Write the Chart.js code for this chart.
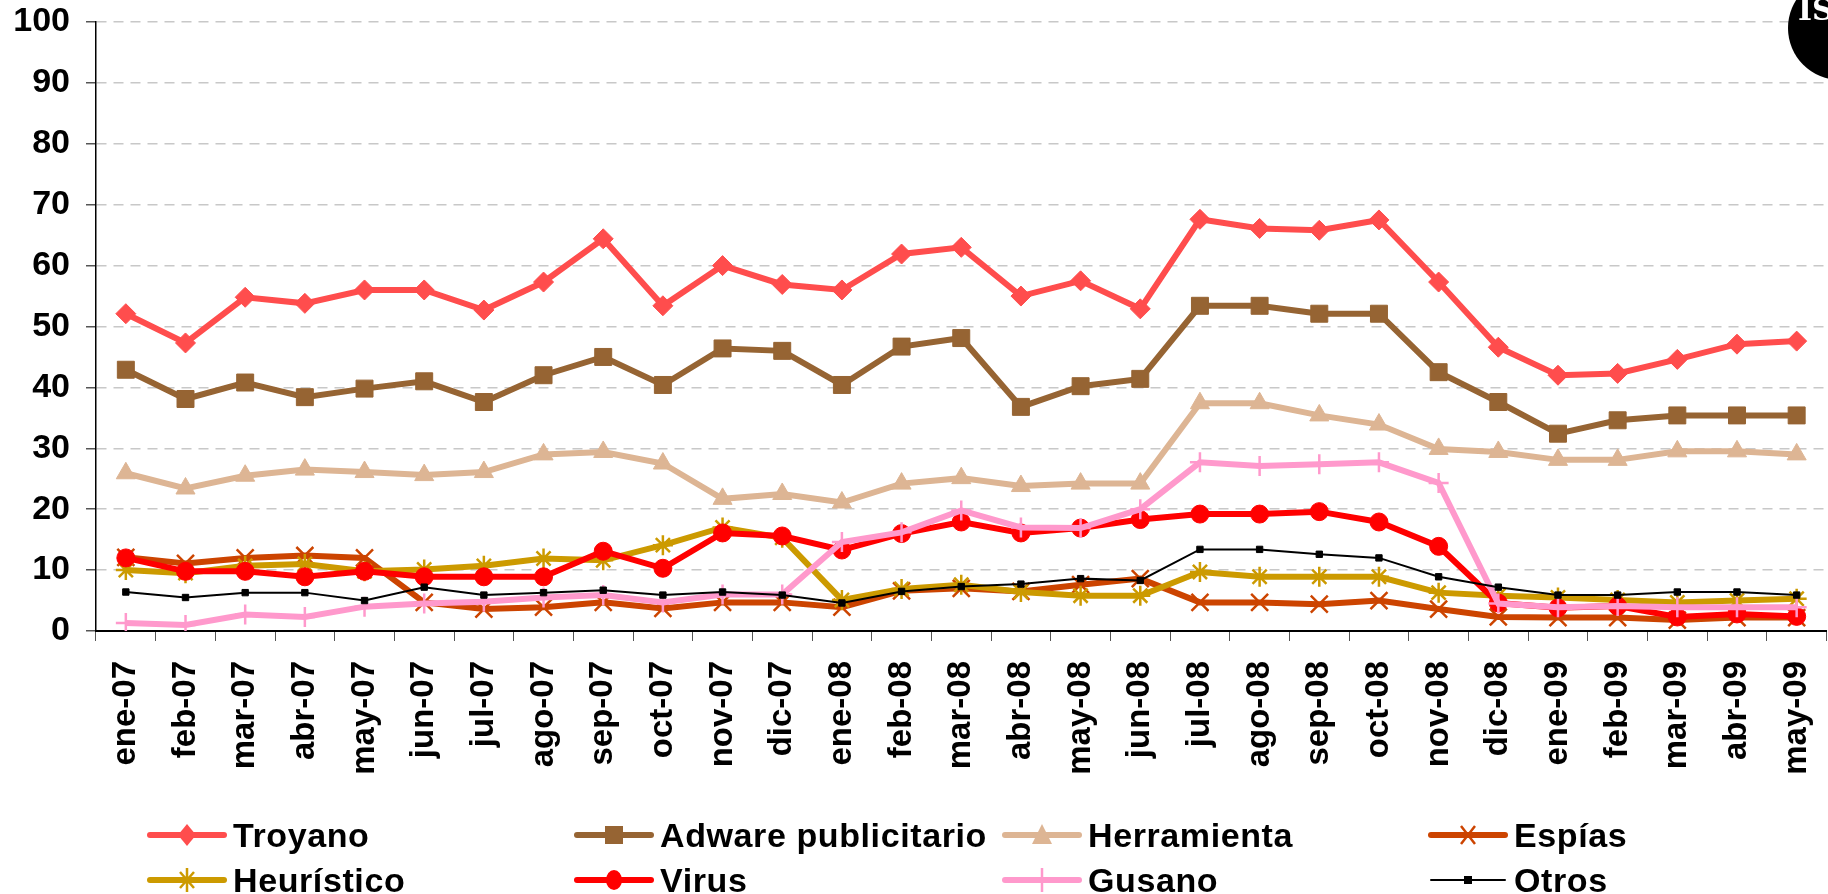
<!DOCTYPE html>
<html>
<head>
<meta charset="utf-8">
<script src="https://cdn.jsdelivr.net/npm/chart.js@4.4.1/dist/chart.umd.min.js"></script>
<style>
  body { margin: 0; background: #fff; overflow: hidden; }
  #wrap { position: relative; width: 1828px; height: 894px; overflow: hidden; }
  #box { position: absolute; left: 0; top: 0; width: 1841px; height: 894px; }
  #logo { position: absolute; left: 1788px; top: -24px; width: 104px; height: 104px; border-radius: 50%; background: #000; }
  #logo span { position: absolute; left: 10px; top: 16px; color: #fff; font: bold 30px 'DejaVu Serif', serif; }
  .item { position: absolute; height: 40px; display: flex; align-items: center; }
  .item span { font: bold 34px 'Liberation Sans', Arial, sans-serif; letter-spacing: 0.6px; color: #000; margin-left: 6px; }
</style>
</head>
<body>
<div id="wrap">
  <div id="box"><canvas id="chart"></canvas></div>
  <div id="logo"><span>IS</span></div>
  <div id="legend"></div>
</div>
<script>
//1) DATA//
const months = ['ene-07','feb-07','mar-07','abr-07','may-07','jun-07','jul-07','ago-07','sep-07','oct-07','nov-07','dic-07',
   'ene-08','feb-08','mar-08','abr-08','may-08','jun-08','jul-08','ago-08','sep-08','oct-08','nov-08','dic-08',
   'ene-09','feb-09','mar-09','abr-09','may-09'];
const yTicks = [0, 10, 20, 30, 40, 50, 60, 70, 80, 90, 100];

const troyano = [52.1, 47.3, 54.8, 53.8, 56, 56, 52.7, 57.3, 64.4, 53.4, 60, 56.9, 56, 61.9, 63, 55, 57.5, 52.9, 67.6, 66.1, 65.8, 67.5, 57.3, 46.6, 42.0, 42.3, 44.6, 47.1, 47.6];
const adware = [42.9, 38.1, 40.8, 38.4, 39.8, 41, 37.6, 42, 45, 40.4, 46.4, 46, 40.4, 46.7, 48.1, 36.8, 40.2, 41.4, 53.4, 53.4, 52.1, 52.1, 42.5, 37.6, 32.4, 34.6, 35.4, 35.4, 35.4];
const herramienta = [25.9, 23.4, 25.5, 26.5, 26.1, 25.6, 26.1, 29.0, 29.4, 27.5, 21.7, 22.5, 21.1, 24.2, 25.1, 23.8, 24.2, 24.2, 37.4, 37.4, 35.4, 33.9, 29.9, 29.4, 28.1, 28.1, 29.5, 29.5, 29.0];
const espias = [12.1, 11.1, 12.0, 12.4, 12.0, 4.7, 3.6, 3.9, 4.7, 3.7, 4.7, 4.7, 3.9, 6.6, 7.0, 6.5, 7.6, 8.6, 4.7, 4.7, 4.4, 5.0, 3.6, 2.3, 2.2, 2.2, 1.8, 2.2, 2.2];
const heuristico = [10.0, 9.5, 10.7, 11.0, 9.8, 10.1, 10.7, 11.9, 11.6, 14.1, 17.0, 15.3, 5.1, 6.9, 7.6, 6.4, 5.8, 5.8, 9.7, 8.9, 8.9, 8.9, 6.3, 5.8, 5.5, 5.1, 4.7, 5.0, 5.3];
const virus = [12.0, 9.8, 9.8, 8.9, 9.8, 8.9, 8.9, 8.9, 13.1, 10.3, 16.1, 15.6, 13.3, 16.0, 17.9, 16.1, 16.9, 18.3, 19.2, 19.2, 19.6, 17.9, 13.9, 4.6, 3.8, 4.1, 2.3, 2.8, 2.4];
const gusano = [1.3, 1.0, 2.7, 2.3, 4.0, 4.5, 4.8, 5.5, 5.9, 4.7, 6.0, 6.0, 14.6, 16.2, 19.8, 17.0, 16.9, 20.0, 27.7, 27.1, 27.4, 27.7, 24.3, 4.5, 3.9, 4.1, 3.9, 3.9, 3.9];
const otros = [6.4, 5.5, 6.3, 6.3, 5.0, 7.2, 5.9, 6.3, 6.7, 5.9, 6.4, 5.9, 4.6, 6.5, 7.3, 7.7, 8.6, 8.3, 13.4, 13.4, 12.6, 12.0, 8.9, 7.2, 5.9, 5.9, 6.4, 6.4, 5.9];

//2) SERIES STYLE//
const series = [
   { label: 'Troyano', data: troyano, color: '#FF4D4D', style: 'rectRot', r: 10, w: 6, order: 8 },
   { label: 'Adware publicitario', data: adware, color: '#966433', style: 'rect', r: 12, w: 6, order: 7 },
   { label: 'Herramienta', data: herramienta, color: '#DDB594', style: 'triangle', r: 11, w: 6, order: 6 },
   { label: 'Espías', data: espias, color: '#CC4400', style: 'crossRot', r: 12, w: 6, order: 5 },
   { label: 'Heurístico', data: heuristico, color: '#CC9A00', style: 'star', r: 10, w: 6, order: 4 },
   { label: 'Virus', data: virus, color: '#FF0000', style: 'circle', r: 9, w: 6, order: 3 },
   { label: 'Gusano', data: gusano, color: '#FF99CC', style: 'cross', r: 10, w: 6, order: 2 },
   { label: 'Otros', data: otros, color: '#000000', style: 'rect', r: 4.5, w: 2, order: 1 }
];

//3) CHART//
const ctx = document.getElementById('chart').getContext('2d');
const chart = new Chart(ctx, {
   type: 'line',
   data: {
      labels: months,
      datasets: series.map(s => ({
         label: s.label,
         data: s.data,
         order: s.order,
         borderColor: s.color,
         backgroundColor: s.color,
         borderWidth: s.w,
         pointStyle: s.style,
         pointRadius: s.r,
         pointBorderWidth: (s.style === 'cross' || s.style === 'crossRot' || s.style === 'star') ? 2.5 : 1,
         pointBackgroundColor: s.color,
         pointBorderColor: s.color,
         tension: 0,
         fill: false
      }))
   },
   options: {
      responsive: true,
      maintainAspectRatio: false,
      animation: false,
      devicePixelRatio: 1,
      layout: { padding: { top: 22, right: 4, left: 0, bottom: 0 } },
      plugins: {
         legend: { display: false },
         tooltip: { enabled: false }
      },
      scales: {
         x: {
            offset: true,
            afterFit: (scale) => {
               scale.height = 263;
               scale.paddingLeft = 0;
               scale.paddingRight = 0;
            },
            border: { display: true, color: '#000', width: 2 },
            grid: {
               offset: true,
               drawOnChartArea: false,
               drawTicks: true,
               tickLength: 10,
               color: '#555'
            },
            ticks: {
               autoSkip: false,
               minRotation: 90,
               maxRotation: 90,
               padding: 20,
               color: '#000',
               font: { family: "'Liberation Sans', Arial, sans-serif", size: 33, weight: 'bold' }
            }
         },
         y: {
            min: 0,
            max: 100,
            afterFit: (scale) => {
               scale.width = 96;
               scale.paddingTop = 0;
               scale.paddingBottom = 0;
            },
            afterBuildTicks: (scale) => { scale.ticks = yTicks.map(v => ({ value: v })); },
            border: { display: true, color: '#000', width: 1.5, dash: [10, 7] },
            grid: {
               color: '#C8C8C8',
               lineWidth: 1.5,
               drawTicks: true,
               tickLength: 10,
               tickColor: '#555',
               tickBorderDash: []
            },
            ticks: {
               padding: 16,
               color: '#000',
               font: { family: "'Liberation Sans', Arial, sans-serif", size: 34, weight: 'bold' }
            }
         }
      }
   }
});

//4) LEGEND//
function markerSvg(s) {
   const c = s.color;
   let m = '';
   if (s.style === 'rectRot') m = `<polygon points="40,9 49,20 40,31 31,20" fill="${c}"/>`;
   if (s.style === 'rect' && s.r > 5) m = `<rect x="31" y="11" width="18" height="18" fill="${c}"/>`;
   if (s.style === 'rect' && s.r <= 5) m = `<rect x="36" y="16" width="8" height="8" fill="${c}"/>`;
   if (s.style === 'triangle') m = `<polygon points="40,9 50,29 30,29" fill="${c}"/>`;
   if (s.style === 'crossRot') m = `<path d="M33 11 L47 29 M47 11 L33 29" stroke="${c}" stroke-width="2.5"/>`;
   if (s.style === 'star') m = `<path d="M40 8 V32 M33 12 L47 28 M47 12 L33 28" stroke="${c}" stroke-width="2.5"/>`;
   if (s.style === 'circle') m = `<ellipse cx="40" cy="20" rx="8" ry="10" fill="${c}"/>`;
   if (s.style === 'cross') m = `<path d="M40 8 V32" stroke="${c}" stroke-width="2.5"/>`;
   return `<svg width="80" height="40"><line x1="3" y1="20" x2="77" y2="20" stroke="${c}" stroke-width="${s.w}" stroke-linecap="round"/>${m}</svg>`;
}
const colX = [147, 574, 1002, 1428];
const rowY = [815, 860];
const legend = document.getElementById('legend');
series.forEach((s, i) => {
   const div = document.createElement('div');
   div.className = 'item';
   div.style.left = colX[i % 4] + 'px';
   div.style.top = rowY[Math.floor(i / 4)] + 'px';
   div.innerHTML = markerSvg(s) + `<span>${s.label}</span>`;
   legend.appendChild(div);
});
</script>
</body>
</html>
